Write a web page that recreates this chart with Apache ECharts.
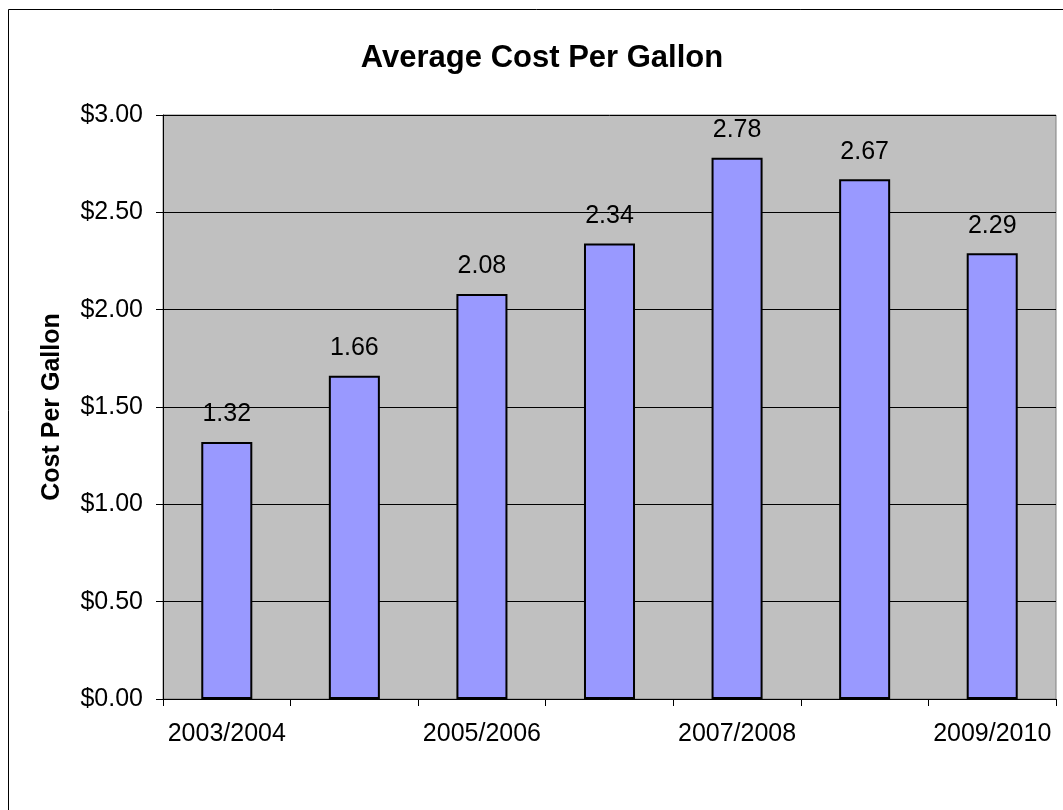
<!DOCTYPE html>
<html>
<head>
<meta charset="utf-8">
<script src="https://cdn.jsdelivr.net/npm/echarts@6/dist/echarts.min.js"></script>
<style>
html,body{margin:0;padding:0;background:#fff;}
#chart{width:1063px;height:810px;}
</style>
</head>
<body>
<div id="chart"></div>
<script>
var categories = ['2003/2004','2004/2005','2005/2006','2006/2007','2007/2008','2008/2009','2009/2010'];
var costPerGallon = [1.32, 1.66, 2.08, 2.34, 2.78, 2.67, 2.29];
var titleText = 'Average Cost Per Gallon';
var yAxisName = 'Cost Per Gallon';

var FONT = '"Liberation Sans", Arial, sans-serif';
var chart = echarts.init(document.getElementById('chart'), null, {renderer:'canvas'});
chart.setOption({
  animation: false,
  backgroundColor: '#fff',
  title: {
    text: titleText,
    left: 537, top: 38, textAlign: 'center',
    textStyle: {fontFamily: FONT, fontSize: 31, fontWeight: 'bold', color: '#000'}
  },
  graphic: [{
    type: 'rect', silent: true, z: 100,
    shape: {x: 8.5, y: 9.5, width: 3000, height: 3000},
    style: {fill: 'none', stroke: '#000', lineWidth: 1}
  }],
  grid: {
    left: 163, top: 115, right: 7, bottom: 111,
    show: true, backgroundColor: '#C0C0C0', borderColor: '#808080', borderWidth: 1
  },
  xAxis: {
    type: 'category',
    data: categories,
    boundaryGap: true,
    axisLine: {show: true, lineStyle: {color: '#000', width: 1}},
    axisTick: {show: true, alignWithLabel: false, interval: 0, length: 7, lineStyle: {color: '#000'}},
    axisLabel: {interval: 1, margin: 23, fontFamily: FONT, fontSize: 25, color: '#000'},
    splitLine: {show: false}
  },
  yAxis: {
    type: 'value',
    min: 0, max: 3, interval: 0.5,
    name: yAxisName,
    nameLocation: 'middle',
    nameGap: 98,
    nameRotate: 90,
    nameTextStyle: {fontFamily: FONT, fontSize: 25, fontWeight: 'bold', color: '#000'},
    axisLine: {show: true, lineStyle: {color: '#000', width: 1}},
    axisTick: {show: true, length: 7, lineStyle: {color: '#000'}},
    axisLabel: {margin: 20, fontFamily: FONT, fontSize: 25, color: '#000',
      formatter: function(v){ return '$' + v.toFixed(2); }},
    splitLine: {show: true, lineStyle: {color: '#000', width: 1}}
  },
  series: [{
    type: 'bar',
    data: costPerGallon,
    barWidth: '40%',
    itemStyle: {color: '#9999FF', borderColor: '#000', borderWidth: 2},
    label: {
      show: true, position: 'top', distance: 15,
      fontFamily: FONT, fontSize: 25, color: '#000',
      formatter: function(p){ return p.value.toFixed(2); }
    }
  }]
});
</script>
</body>
</html>
